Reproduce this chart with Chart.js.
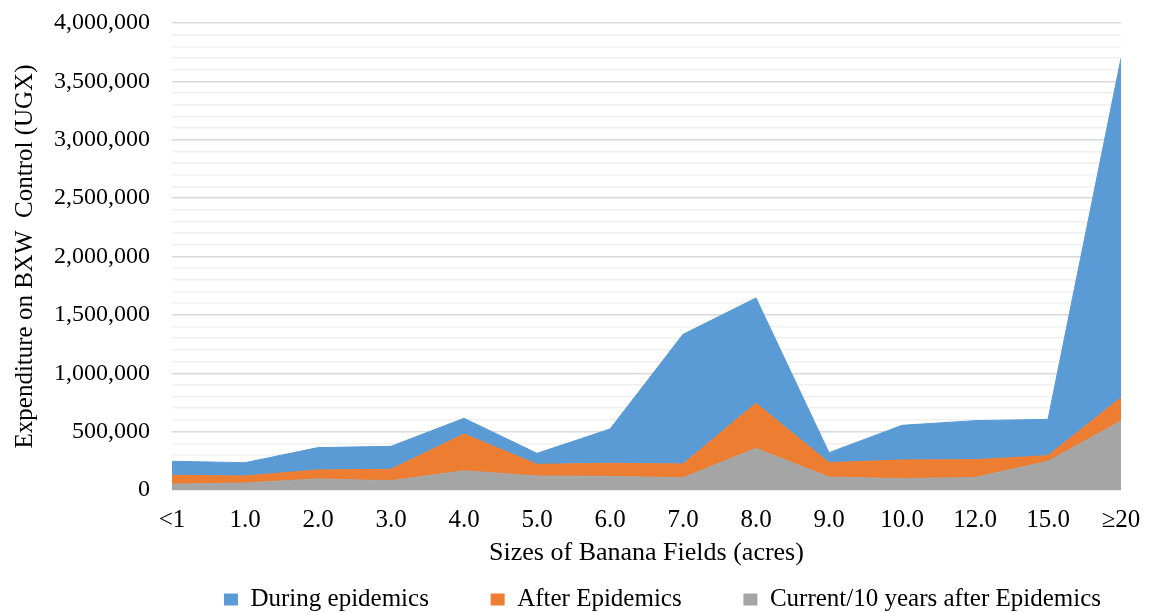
<!DOCTYPE html>
<html>
<head>
<meta charset="utf-8">
<script src="https://cdn.jsdelivr.net/npm/chart.js@4"></script>
<style>
  body { margin: 0; background: #fff; }
  #wrap { width: 1152px; height: 613px; }
</style>
</head>
<body>
<div id="wrap"><canvas id="bxwChart"></canvas></div>
<script>
const categories = ["<1", "1.0", "2.0", "3.0", "4.0", "5.0", "6.0", "7.0", "8.0", "9.0", "10.0", "12.0", "15.0", "≥20"];
const during = [120000, 114000, 191000, 197000, 134000, 94000, 293000, 1110000, 902000, 86000, 297000, 334000, 311000, 2906000];
const after = [76000, 60000, 77000, 97000, 315000, 100000, 112000, 118000, 386000, 123000, 160000, 152000, 48000, 200000];
const current = [50000, 60000, 95000, 80000, 165000, 120000, 117000, 105000, 357000, 111000, 97000, 108000, 246000, 591000];
const yTicks = [0, 500000, 1000000, 1500000, 2000000, 2500000, 3000000, 3500000, 4000000];

const serif = "'Liberation Serif', 'Times New Roman', serif";

// the legend in the original sits a bit right of the centre
const legendShift = {
  id: "legendShift",
  afterLayout(chart) {
    chart.legend.left += 99;
    chart.legend.right += 99;
  },
};

const ctx = document.getElementById("bxwChart").getContext("2d");
new Chart(ctx, {
  type: "line",
  data: {
    labels: categories,
    datasets: [
      {
        label: "Current/10 years after Epidemics",
        data: current,
        backgroundColor: "#A5A5A5",
        borderColor: "#A5A5A5",
        fill: "origin",
      },
      {
        label: "After Epidemics",
        data: after,
        backgroundColor: "#ED7D31",
        borderColor: "#ED7D31",
        fill: "-1",
      },
      {
        label: "During epidemics",
        data: during,
        backgroundColor: "#5B9BD5",
        borderColor: "#5B9BD5",
        fill: "-1",
      },
    ],
  },
  plugins: [legendShift],
  options: {
    responsive: true,
    maintainAspectRatio: false,
    animation: false,
    elements: {
      point: { radius: 0, hoverRadius: 0 },
      line: { borderWidth: 1, tension: 0 },
    },
    layout: { padding: { left: 6, right: 31, top: 23, bottom: -9 } },
    plugins: {
      tooltip: { enabled: false },
      legend: {
        position: "bottom",
        reverse: true,
        labels: {
          font: { family: serif, size: 25 },
          color: "#000",
          boxWidth: 14,
          boxHeight: 12,
          padding: 18,
          generateLabels: (chart) => {
            const items = Chart.defaults.plugins.legend.labels.generateLabels(chart);
            items.forEach((it) => {
              // widen the gaps between items with spaces
              if (it.datasetIndex !== 0) it.text += "       ";
              it.lineWidth = 0;
            });
            return items;
          },
        },
      },
    },
    scales: {
      x: {
        stacked: true,
        offset: false,
        grid: { display: false },
        border: { display: false },
        ticks: {
          font: { family: serif, size: 25 },
          color: "#000",
          padding: 7,
          maxRotation: 0,
          autoSkip: false,
        },
        title: {
          display: true,
          text: "Sizes of Banana Fields (acres)",
          font: { family: serif, size: 26 },
          color: "#000",
          padding: { top: 2, bottom: 0 },
        },
        afterFit: (scale) => {
          scale.height = 79;
        },
      },
      y: {
        stacked: true,
        min: 0,
        max: 4000000,
        border: { display: false },
        grid: {
          tickLength: 22,
          tickColor: "rgba(0,0,0,0)",
          color: (c) => (yTicks.includes(c.tick.value) ? "#d9d9d9" : "#f0f0f0"),
          lineWidth: (c) => (yTicks.includes(c.tick.value) ? 1.4 : 1.6),
        },
        ticks: {
          stepSize: 100000,
          autoSkip: false,
          padding: 0,
          font: { family: serif, size: 24 },
          color: "#000",
          callback: (v) => (yTicks.includes(v) ? v.toLocaleString("en-US") : ""),
        },
        title: {
          display: true,
          text: "Expenditure on BXW  Control (UGX)",
          font: { family: serif, size: 25 },
          color: "#000",
        },
        afterFit: (scale) => {
          scale.width = 166;
        },
      },
    },
  },
});
</script>
</body>
</html>
